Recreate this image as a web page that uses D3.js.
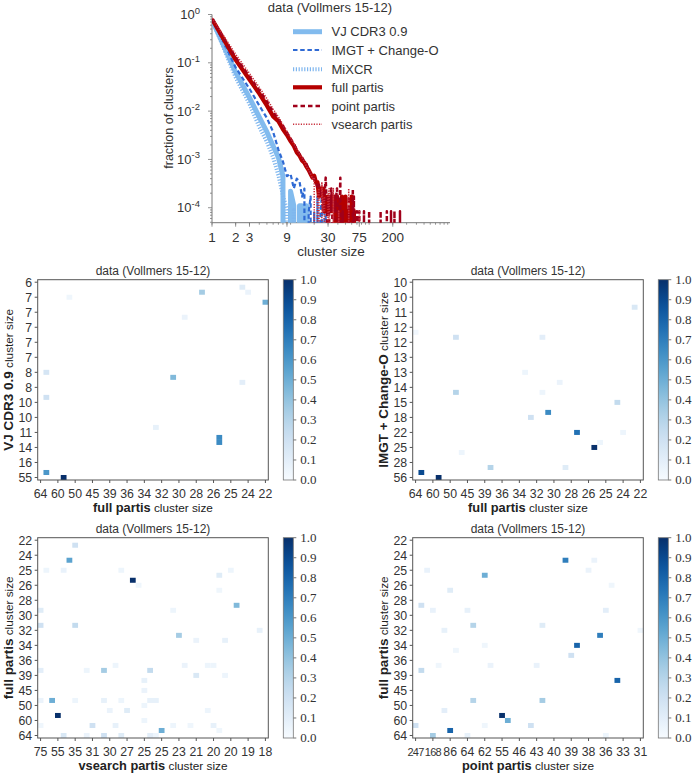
<!DOCTYPE html>
<html><head><meta charset="utf-8">
<script src="https://cdn.jsdelivr.net/npm/d3@7"></script>
<style>body{margin:0;background:#fff}</style>
</head><body><svg id="c" width="694" height="775" xmlns="http://www.w3.org/2000/svg"></svg>
<script>
// ---------- top chart data: [cluster size, fraction of clusters] ----------
const vjCdr3 = [[1,0.78],[2,0.064],[3,0.019],[4,0.0075],[5,0.0037],[6,0.0019],[7,0.0011],[8,0.00045],[9,0],[10,0.00022],[11,0.00011],[12,0],[13,0.00011],[14,0.00011],[15,0],[16,0.00011],[17,0],[54,0],[55,0.00008],[56,0]];
const imgtChangeO = [[1,0.80],[2,0.08],[3,0.029],[4,0.013],[5,0.0072],[6,0.0037],[7,0.0016],[8,0.0009],[9,0.00045],[10,0.0005],[11,0.00025],[12,0.0004],[13,0.00035],[14,0.00017],[15,0.00025],[16,0],[17,0.00008],[18,0.00017],[19,0],[20,0.00008],[21,0],[22,0.00017],[23,0],[24,0.00008],[25,0.00017],[26,0],[27,0.00008],[28,0.00008],[29,0],[55,0],[56,0.00008],[57,0]];
const mixcr = [[1,0.78],[2,0.05],[3,0.014],[4,0.0047],[5,0.0023],[6,0.0011],[7,0.00047],[8,0.00018],[9,0.00009],[10,0],[11,0.00009],[12,0]];
const fullPartis = [[1,0.80],[2,0.115],[3,0.045],[4,0.023],[5,0.013],[6,0.0078],[7,0.0062],[8,0.0042],[9,0.0032],[10,0.0024],[11,0.0019],[12,0.0014],[13,0.0012],[14,0.00095],[15,0.00085],[16,0.0007],[17,0.0006],[18,0.0005],[19,0.00042],[20,0.00046],[21,0.00034],[22,0.00034],[23,0.00017],[24,0.00025],[25,0.00025],[26,0.00025],[27,0.000085],[28,0.00017],[29,0.000085],[30,0.00017],[31,0.000085],[32,0.00017],[33,0.000085],[34,0.00017],[35,0.000085],[36,0.00017],[37,0.000085],[38,0],[39,0.00017],[40,0.000085],[41,0],[42,0.000085],[43,0],[44,0.000085],[45,0.00017],[46,0],[47,0.000085],[48,0],[49,0.000085],[50,0.00017],[51,0],[53,0],[54,0.000085],[55,0],[59,0],[60,0.00017],[61,0],[63,0],[64,0.000085],[65,0]];
const pointPartis = [[1,0.80],[2,0.13],[3,0.052],[4,0.027],[5,0.016],[6,0.0098],[7,0.0068],[8,0.005],[9,0.0036],[10,0.0027],[11,0.0021],[12,0.0016],[13,0.0013],[14,0.0011],[15,0.0009],[16,0.0008],[17,0.0006],[18,0.0005],[19,0.00045],[20,0.0004],[21,0.00034],[22,0.00025],[23,0.0003],[24,0.00017],[25,0.00025],[26,0.000085],[27,0.00017],[28,0.00042],[29,0.000085],[30,0],[31,0.00017],[32,0.000085],[33,0.00025],[34,0.000085],[35,0],[36,0.00017],[37,0.000085],[38,0.00017],[39,0.00025],[40,0.000085],[41,0],[42,0.000085],[43,0.00042],[44,0],[46,0.000085],[47,0],[54,0],[55,0.00017],[56,0],[61,0],[62,0.00025],[63,0],[64,0.00017],[65,0],[69,0],[70,0.000085],[71,0],[74,0],[75,0.000085],[76,0],[85,0],[86,0.000085],[87,0],[99,0],[100,0.000085],[101,0],[139,0],[140,0.000085],[141,0],[167,0],[168,0.000085],[169,0],[189,0],[190,0.000085],[191,0],[209,0],[210,0.000085],[211,0],[246,0],[247,0.000085],[248,0]];
const vsearchPartis = [[1,0.85],[2,0.15],[3,0.06],[4,0.031],[5,0.018],[6,0.011],[7,0.0076],[8,0.0052],[9,0.0038],[10,0.0028],[11,0.0021],[12,0.0017],[13,0.0013],[14,0.0011],[15,0.0009],[16,0.0007],[17,0.0006],[18,0.0005],[19,0.0004],[20,0.00042],[21,0],[22,0.00017],[23,0.00025],[24,0],[25,0.00034],[26,0.000085],[27,0.00017],[28,0],[30,0.00017],[31,0.00025],[32,0],[35,0.00025],[36,0],[40,0],[41,0.000085],[42,0],[54,0],[55,0.00025],[56,0],[74,0],[75,0.000085],[76,0]];
const seriesNames = ["VJ CDR3 0.9","IMGT + Change-O","MiXCR","full partis","point partis","vsearch partis"];
const xTickValues = [1,2,3,9,30,75,200];
const yTickExps = [0,-1,-2,-3,-4];

// ---------- heatmap data: [column index, row index, value] ----------
const hm1Cells = [[35,1,0.12],[36,2,0.06],[28,2,0.35],[5,3,0.04],[39,4,0.5],[25,7,0.06],[1,18,0.17],[23,19,0.45],[35,20,0.1],[1,23,0.2],[20,29,0.08],[31,31,0.65],[31,32,0.65],[1,38,0.6],[4,39,1.0]];
const hm2Cells = [[38,5,0.15],[0,10,0.03],[7,11,0.2],[22,11,0.1],[19,18,0.05],[25,20,0.06],[7,22,0.3],[22,22,0.05],[35,24,0.25],[23,26,0.65],[20,27,0.2],[28,30,0.75],[36,30,0.05],[32,32,0.05],[31,33,1.0],[8,34,0.05],[13,37,0.3],[26,37,0.12],[1,38,0.9],[4,39,1.0]];
const hm3Cells = [[6,1,0.2],[5,4,0.55],[1,6,0.05],[4,6,0.07],[14,6,0.05],[33,6,0.05],[31,7,0.12],[16,8,1.0],[17,9,0.04],[31,10,0.04],[34,13,0.45],[0,14,0.12],[23,14,0.05],[0,17,0.2],[6,17,0.25],[38,18,0.08],[24,19,0.35],[27,20,0.06],[32,20,0.08],[13,25,0.05],[25,25,0.06],[29,25,0.05],[30,25,0.05],[0,26,0.1],[8,26,0.05],[11,26,0.35],[19,26,0.25],[27,27,0.15],[32,27,0.05],[18,28,0.08],[18,30,0.06],[0,32,0.06],[2,32,0.5],[6,32,0.05],[11,32,0.08],[14,32,0.05],[19,32,0.08],[20,32,0.08],[18,33,0.05],[12,34,0.06],[15,34,0.12],[29,34,0.05],[3,35,1.0],[18,36,0.05],[0,37,0.04],[9,37,0.2],[13,37,0.08],[23,37,0.05],[26,37,0.04],[30,37,0.08],[31,38,0.04],[21,38,0.5],[4,39,0.15],[8,39,0.06],[11,39,0.2],[14,39,0.12],[19,39,0.1],[20,39,0.05]];
const hm4Cells = [[26,4,0.7],[31,4,0.06],[2,6,0.07],[30,6,0.06],[12,7,0.5],[34,9,0.04],[6,10,0.12],[1,13,0.2],[3,14,0.07],[9,14,0.08],[33,14,0.1],[10,17,0.3],[22,17,0.12],[5,18,0.08],[39,18,0.04],[32,19,0.7],[12,21,0.04],[28,21,0.8],[7,22,0.04],[27,23,0.2],[4,25,0.04],[13,25,0.06],[21,25,0.07],[1,26,0.25],[35,28,0.8],[10,32,0.3],[22,32,0.35],[5,34,0.1],[15,35,1.0],[16,36,0.5],[0,37,0.2],[12,37,0.04],[20,37,0.2],[6,38,0.8],[3,39,0.35],[9,39,0.08],[33,39,0.05]];
const fullPartisDesc = ["64","60","50","45","39","36","34","32","30","28","26","25","24","22"];
const fullPartisAsc = ["22","24","25","26","28","30","32","34","36","39","45","50","60","64"];
const vjCdr3Labels = ["6","7","7","7","7","7","8","8","10","10","11","14","16","55"];
const imgtLabels = ["10","10","11","12","12","13","13","14","15","18","22","25","28","56"];
const vsearchLabels = ["75","55","35","31","30","27","25","25","23","21","20","20","19","18"];
const pointLabels = ["247","168","86","64","62","55","46","43","40","39","38","36","33","31"];
const colorbarTicks = [0,0.1,0.2,0.3,0.4,0.5,0.6,0.7,0.8,0.9,1.0];
const nBins = 40;
const titleText = "data (Vollmers 15-12)";

const svg = d3.select("#c");
const SANS = "'Liberation Sans', Arial, sans-serif";
const SERIF = "'Liberation Serif', 'DejaVu Serif', serif";

// ================= TOP CHART =================
(function(){
  const x = d3.scaleLog().domain([1,1070]).range([212,450]);
  const y = d3.scaleLog().domain([1,4.9e-5]).range([14.5,222.7]);
  const g = svg.append("g");
  const defs = svg.append("defs");
  defs.append("clipPath").attr("id","topclip").append("rect")
    .attr("x",212).attr("y",0).attr("width",238).attr("height",222.7);

  const axisCol = "#777";
  g.append("line").attr("x1",212).attr("x2",212).attr("y1",14.5).attr("y2",222.7).attr("stroke",axisCol).attr("stroke-width",1);
  g.append("line").attr("x1",212).attr("x2",450).attr("y1",222.7).attr("y2",222.7).attr("stroke",axisCol).attr("stroke-width",1);

  for (let j=-5;j<=0;j++){
    for (let k=1;k<=9;k++){
      const v = k*Math.pow(10,j);
      if (v<4.9e-5 || v>1) continue;
      const len = k===1?4:2;
      g.append("line").attr("x1",212-len).attr("x2",212).attr("y1",y(v)).attr("y2",y(v)).attr("stroke",axisCol).attr("stroke-width",0.8);
    }
  }
  yTickExps.forEach(e=>{
    const t = g.append("text").attr("x",200).attr("y",y(Math.pow(10,e))+4.5)
      .attr("text-anchor","end").attr("font-family",SANS).attr("font-size",13).attr("fill","#333");
    t.append("tspan").text("10");
    t.append("tspan").attr("dy",-5.5).attr("font-size",9.5).text(String(e).replace("-","\u2011"));
  });
  for (let j=0;j<=3;j++){
    for (let k=1;k<=9;k++){
      const v=k*Math.pow(10,j);
      if (v>1070) continue;
      g.append("line").attr("x1",x(v)).attr("x2",x(v)).attr("y1",222.7).attr("y2",224.7).attr("stroke",axisCol).attr("stroke-width",0.8);
    }
  }
  xTickValues.forEach(v=>{
    g.append("line").attr("x1",x(v)).attr("x2",x(v)).attr("y1",222.7).attr("y2",226.7).attr("stroke",axisCol).attr("stroke-width",0.8);
    g.append("text").attr("x",x(v)).attr("y",242).attr("text-anchor","middle")
      .attr("font-family",SANS).attr("font-size",13.5).attr("fill","#333").text(v);
  });
  g.append("text").attr("x",331).attr("y",256).attr("text-anchor","middle").attr("font-family",SANS).attr("font-size",13.5).attr("fill","#333").text("cluster size");
  g.append("text").attr("transform","translate(172.5,118) rotate(-90)").attr("text-anchor","middle").attr("font-family",SANS).attr("font-size",12.5).attr("fill","#333").text("fraction of clusters");
  g.append("text").attr("x",330).attr("y",11.5).attr("text-anchor","middle").attr("font-family",SANS).attr("font-size",13).attr("fill","#333").text(titleText);

  const styles = [
    {data:vjCdr3, color:"#82bbee", w:5, dash:null},
    {data:imgtChangeO, color:"#2f6ad4", w:2.2, dash:"4.5,2.7"},
    {data:mixcr, color:"#7fb6ee", w:4, dash:"1.2,1.6"},
    {data:fullPartis, color:"#b50000", w:4.2, dash:null},
    {data:pointPartis, color:"#a0001a", w:2.5, dash:"4.5,3"},
    {data:vsearchPartis, color:"#c8303c", w:1.6, dash:"1.2,1.4"}
  ];
  const line = d3.line().x(d=>x(d[0])).y(d=> d[1]>0 ? y(d[1]) : 3000);
  const lg = g.append("g").attr("clip-path","url(#topclip)");
  styles.forEach(s=>{
    lg.append("path").attr("d",line(s.data)).attr("fill","none").attr("stroke",s.color)
      .attr("stroke-width",s.w).attr("stroke-dasharray",s.dash).attr("stroke-linejoin","round");
  });
  const rows=[31.7,50,69.3,87.3,106,124.3];
  styles.forEach((s,i)=>{
    g.append("line").attr("x1",293).attr("x2",322).attr("y1",rows[i]).attr("y2",rows[i])
      .attr("stroke",s.color).attr("stroke-width",s.w).attr("stroke-dasharray",s.dash);
    g.append("text").attr("x",331.5).attr("y",rows[i]+4.6).attr("font-family",SANS).attr("font-size",13).attr("fill","#333").text(seriesNames[i]);
  });
})();

// ================= HEATMAPS =================
const W = 230.6, H = 200.3;
const panels = [
  {x0:37.7, y0:279.7, cbx:283.3, cells:hm1Cells, xl:fullPartisDesc, yl:vjCdr3Labels, xname:"full partis", yname:"VJ CDR3 0.9"},
  {x0:412.7, y0:279.7, cbx:658.3, cells:hm2Cells, xl:fullPartisDesc, yl:imgtLabels, xname:"full partis", yname:"IMGT + Change-O"},
  {x0:37.7, y0:537.7, cbx:283.3, cells:hm3Cells, xl:vsearchLabels, yl:fullPartisAsc, xname:"vsearch partis", yname:"full partis"},
  {x0:412.7, y0:537.7, cbx:658.3, cells:hm4Cells, xl:pointLabels, yl:fullPartisAsc, xname:"point partis", yname:"full partis"}
];
const color = d3.scaleSequential(d3.interpolateBlues).domain([0,1]);
const defs = svg.append("defs");
const grad = defs.append("linearGradient").attr("id","cbgrad").attr("x1",0).attr("x2",0).attr("y1",1).attr("y2",0);
d3.range(0,1.0001,0.05).forEach(t=>grad.append("stop").attr("offset",t).attr("stop-color",color(t)));

const frameCol = "#555";
panels.forEach(p=>{
  const g = svg.append("g");
  const xs = d3.scaleBand().domain(d3.range(nBins)).range([p.x0,p.x0+W]);
  const ys = d3.scaleBand().domain(d3.range(nBins)).range([p.y0,p.y0+H]);
  g.append("rect").attr("x",p.x0).attr("y",p.y0).attr("width",W).attr("height",H).attr("fill","#fff");
  g.selectAll("rect.cell").data(p.cells).join("rect").attr("class","cell")
    .attr("x",d=>xs(d[0])).attr("y",d=>ys(d[1])).attr("width",xs.bandwidth()).attr("height",ys.bandwidth())
    .attr("fill",d=>color(d[2]));
  g.append("rect").attr("x",p.x0).attr("y",p.y0).attr("width",W).attr("height",H).attr("fill","none").attr("stroke",frameCol).attr("stroke-width",1);
  p.xl.forEach((lab,i)=>{
    const cx = xs(i*3)+xs.bandwidth()/2;
    const long = lab.length > 2;
    g.append("line").attr("x1",cx).attr("x2",cx).attr("y1",p.y0+H).attr("y2",p.y0+H+3).attr("stroke",frameCol);
    g.append("text").attr("x",cx).attr("y",p.y0+H+17.5).attr("text-anchor","middle").attr("font-family",SANS)
      .attr("font-size",long?11:12.3).attr("letter-spacing",long?-0.7:0).attr("fill","#333").text(lab);
  });
  p.yl.forEach((lab,i)=>{
    const cy = ys(i*3)+ys.bandwidth()/2;
    g.append("line").attr("x1",p.x0-3).attr("x2",p.x0).attr("y1",cy).attr("y2",cy).attr("stroke",frameCol);
    g.append("text").attr("x",p.x0-5.5).attr("y",cy+4.4).attr("text-anchor","end").attr("font-family",SANS).attr("font-size",12.3).attr("fill","#333").text(lab);
  });
  g.append("text").attr("x",p.x0+W/2).attr("y",p.y0-4.5).attr("text-anchor","middle").attr("font-family",SANS).attr("font-size",12).attr("fill","#333").text(titleText);
  const xt = g.append("text").attr("x",p.x0+W/2).attr("y",p.y0+H+32).attr("text-anchor","middle").attr("font-family",SANS).attr("fill","#222");
  xt.append("tspan").attr("font-weight","bold").attr("font-size",12.8).text(p.xname);
  xt.append("tspan").attr("font-size",11.8).text(" cluster size");
  const yt = g.append("text").attr("transform",`translate(${p.x0-25},${p.y0+H/2}) rotate(-90)`).attr("text-anchor","middle").attr("font-family",SANS).attr("fill","#222");
  yt.append("tspan").attr("font-weight","bold").attr("font-size",13.5).text(p.yname);
  yt.append("tspan").attr("font-size",11.8).text(" cluster size");
  g.append("rect").attr("x",p.cbx).attr("y",p.y0).attr("width",10).attr("height",H).attr("fill","url(#cbgrad)").attr("stroke","#777").attr("stroke-width",0.8);
  const cs = d3.scaleLinear().domain([0,1]).range([p.y0+H,p.y0]);
  colorbarTicks.forEach(v=>{
    g.append("line").attr("x1",p.cbx+10).attr("x2",p.cbx+13).attr("y1",cs(v)).attr("y2",cs(v)).attr("stroke","#777");
    g.append("text").attr("x",p.cbx+17).attr("y",cs(v)+4.4).attr("font-family",SERIF).attr("font-size",13).attr("fill","#333").text(v.toFixed(1));
  });
});
</script></body></html>
